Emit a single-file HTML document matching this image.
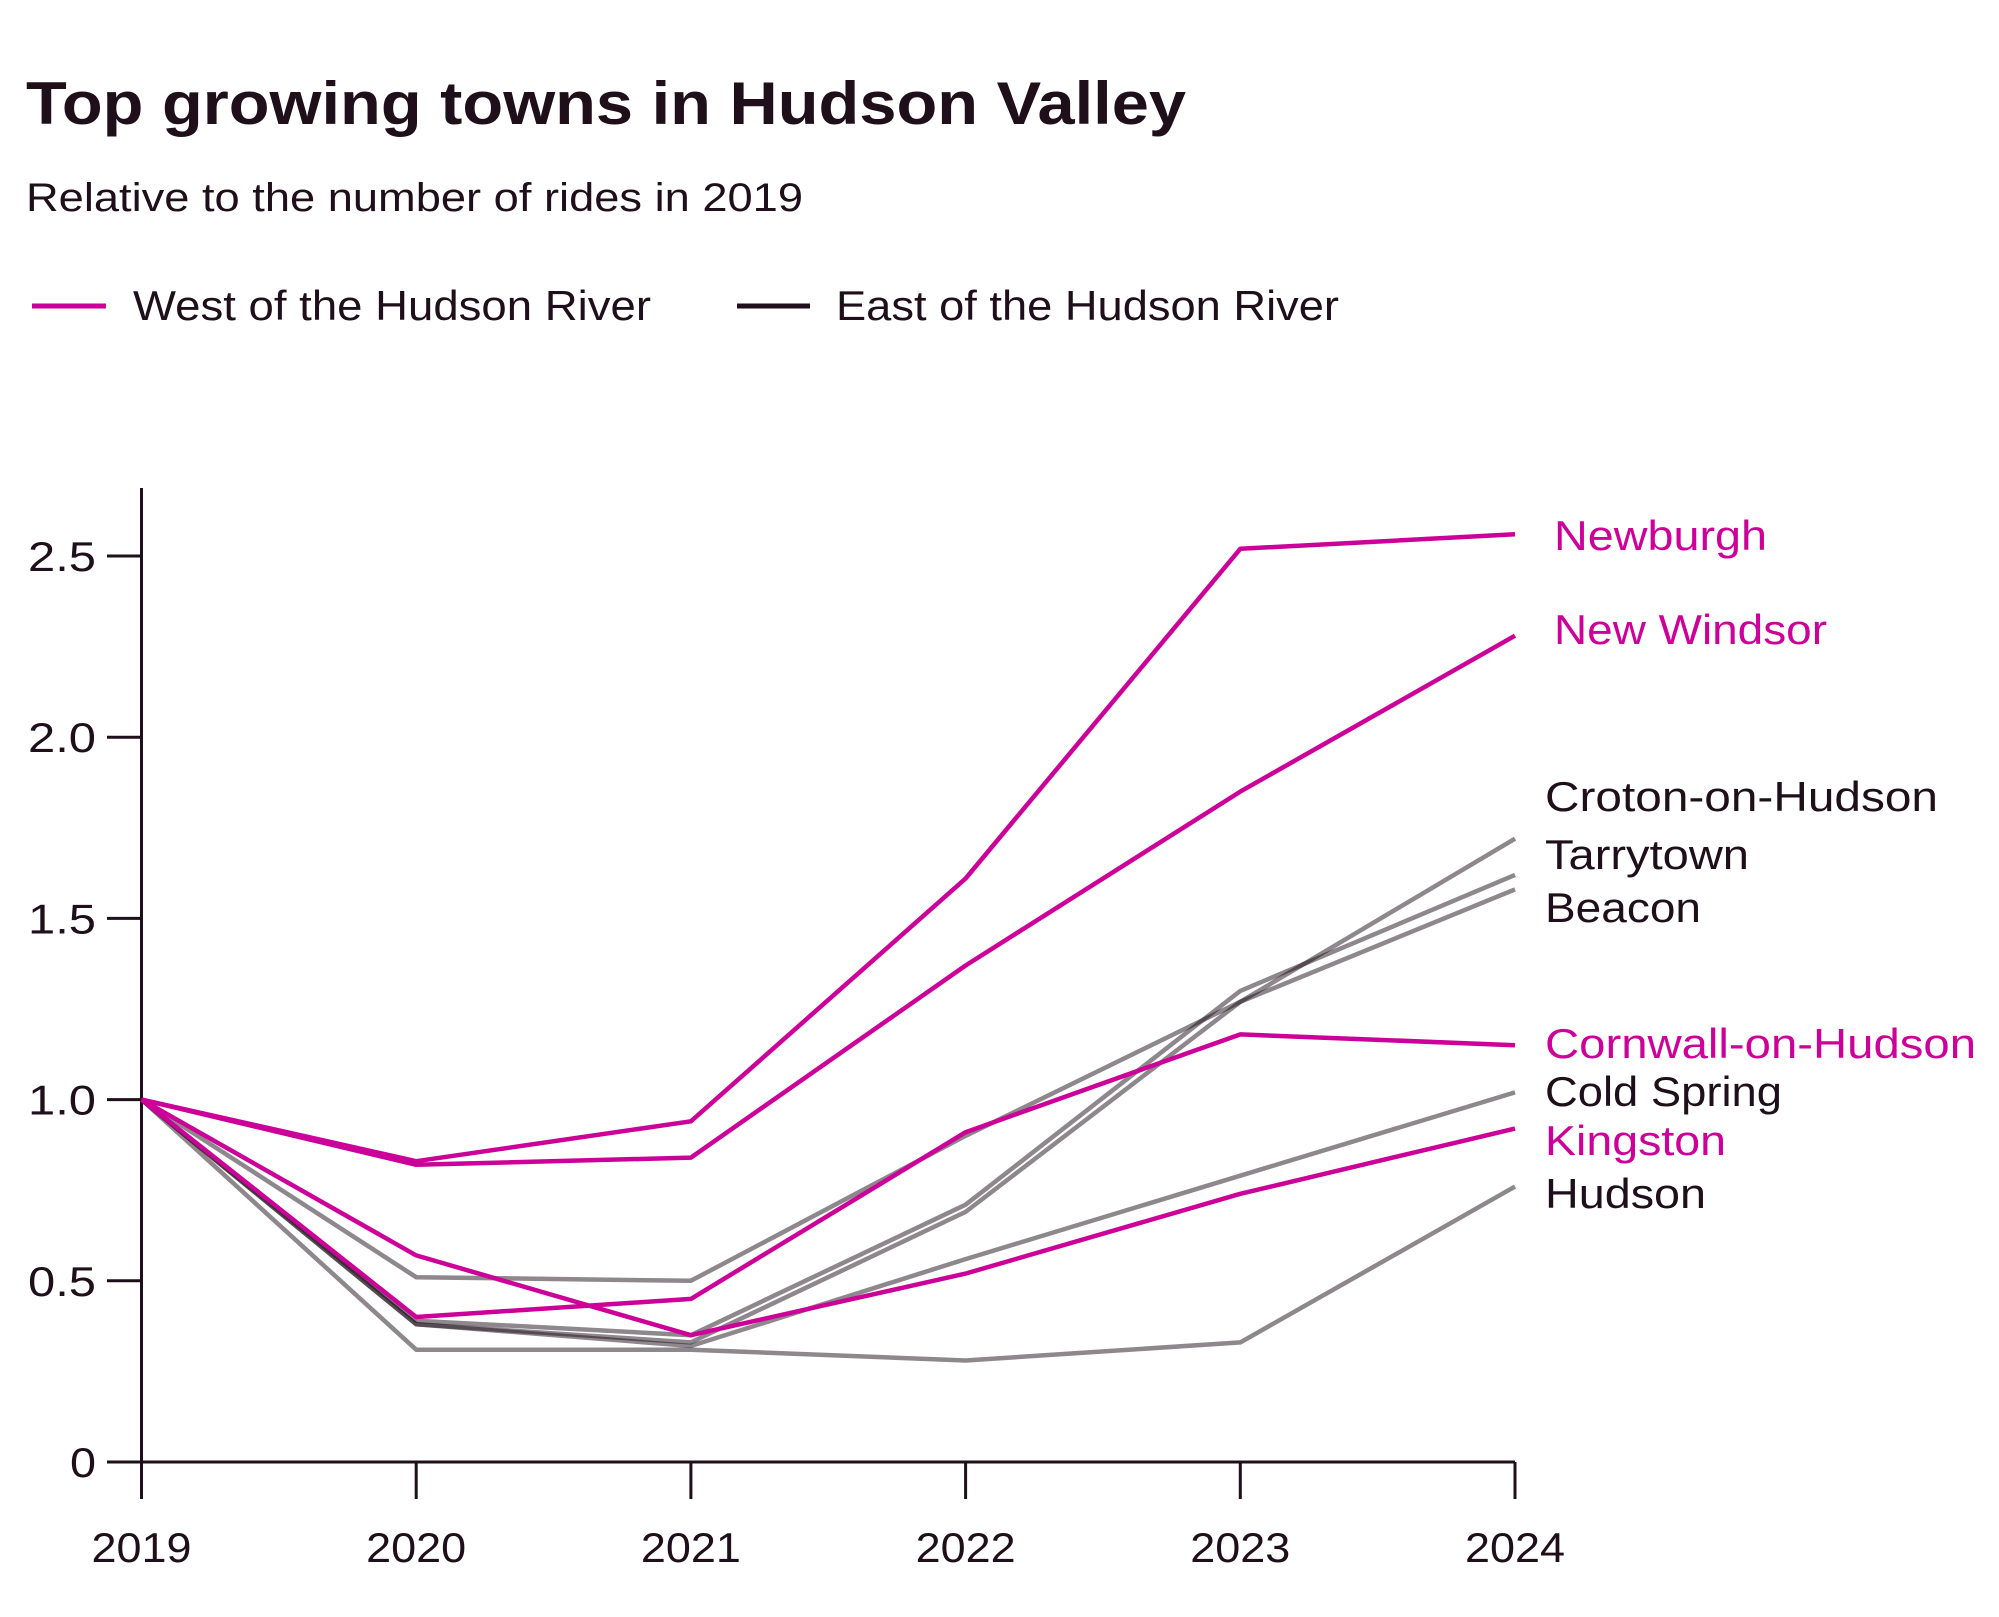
<!DOCTYPE html>
<html><head><meta charset="utf-8"><style>
html,body{margin:0;padding:0;background:#fff}
svg{display:block;font-family:"Liberation Sans",sans-serif}
</style></head><body>
<svg id="chart" width="1999" height="1617" viewBox="0 0 1999 1617" xmlns="http://www.w3.org/2000/svg">
<text x="26" y="124" font-size="60" font-weight="bold" fill="#1e0f1a" textLength="1160" lengthAdjust="spacingAndGlyphs">Top growing towns in Hudson Valley</text>
<text x="26" y="211" font-size="40" fill="#1e0f1a" textLength="777" lengthAdjust="spacingAndGlyphs">Relative to the number of rides in 2019</text>
<g>
<line x1="32" y1="306" x2="106" y2="306" stroke="#cc0099" stroke-width="5"/>
<text x="133" y="320" font-size="42" fill="#1e0f1a" textLength="518" lengthAdjust="spacingAndGlyphs">West of the Hudson River</text>
<line x1="737" y1="306" x2="810" y2="306" stroke="#1e0f1a" stroke-width="5"/>
<text x="836" y="320" font-size="42" fill="#1e0f1a" textLength="503" lengthAdjust="spacingAndGlyphs">East of the Hudson River</text>
</g>
<g id="axes"></g>
<g id="series"></g>
<g id="labels"></g>
</svg>
<script>
const years = [2019, 2020, 2021, 2022, 2023, 2024];
const yTicks = [0, 0.5, 1.0, 1.5, 2.0, 2.5];
const yTickLabels = ["0", "0.5", "1.0", "1.5", "2.0", "2.5"];
const newburgh = [1, 0.83, 0.94, 1.61, 2.52, 2.56];
const newWindsor = [1, 0.82, 0.84, 1.37, 1.85, 2.28];
const cornwall = [1, 0.40, 0.45, 0.91, 1.18, 1.15];
const kingston = [1, 0.57, 0.35, 0.52, 0.74, 0.92];
const croton = [1, 0.38, 0.33, 0.69, 1.27, 1.72];
const tarrytown = [1, 0.39, 0.35, 0.71, 1.30, 1.62];
const beacon = [1, 0.51, 0.50, 0.90, 1.27, 1.58];
const coldSpring = [1, 0.38, 0.32, 0.56, 0.79, 1.02];
const hudson = [1, 0.31, 0.31, 0.28, 0.33, 0.76];
const seriesNames = ["Newburgh","New Windsor","Cornwall-on-Hudson","Kingston","Croton-on-Hudson","Tarrytown","Beacon","Cold Spring","Hudson"];
const seriesData = [newburgh,newWindsor,cornwall,kingston,croton,tarrytown,beacon,coldSpring,hudson];
const seriesWest = [true,true,true,true,false,false,false,false,false];
const labelY = {"Newburgh":535,"New Windsor":629,"Croton-on-Hudson":796,"Tarrytown":854,"Beacon":907,"Cornwall-on-Hudson":1043,"Cold Spring":1091,"Kingston":1140,"Hudson":1193};
const labelW = {"Newburgh":213,"New Windsor":273,"Croton-on-Hudson":393,"Tarrytown":204,"Beacon":156,"Cornwall-on-Hudson":431,"Cold Spring":237,"Kingston":181,"Hudson":161};

const X0=141.5, X1=1515, Y0=1462, YTOP=556, VTOP=2.5;
const x = i => X0 + (X1-X0)*i/(years.length-1);
const y = v => Y0 - (Y0-YTOP)*v/VTOP;
const NS="http://www.w3.org/2000/svg";
function mk(tag, attrs, parent, text){const e=document.createElementNS(NS,tag);for(const k in attrs)e.setAttribute(k,attrs[k]);if(text!==undefined)e.textContent=text;parent.appendChild(e);return e;}
const axes=document.getElementById('axes'), ser=document.getElementById('series'), lab=document.getElementById('labels');
const dark="#1e0f1a";
let e=mk('line',{x1:X0,y1:488,x2:X0,y2:Y0,stroke:dark,'stroke-width':3},axes);


e=mk('line',{x1:X0,y1:Y0,x2:X1,y2:Y0,stroke:dark,'stroke-width':3},axes);


yTicks.forEach((v,i)=>{
  let t=mk('line',{x1:107,y1:y(v),x2:X0,y2:y(v),stroke:dark,'stroke-width':3},axes);
  
  
  const s=yTickLabels[i];
  const w=s.length===1?26:68;
  let l=mk('text',{x:96-w,y:y(v)+15,'font-size':42,fill:dark,textLength:w,lengthAdjust:'spacingAndGlyphs'},axes,s);
  
  
});
years.forEach((yr,i)=>{
  let t=mk('line',{x1:x(i),y1:Y0,x2:x(i),y2:1499,stroke:dark,'stroke-width':3},axes);
  
  
  let l=mk('text',{x:x(i)-50,y:1562,'font-size':42,fill:dark,textLength:100,lengthAdjust:'spacingAndGlyphs'},axes,String(yr));
  
  
});
const order=[4,5,6,7,8,0,1,2,3];
order.forEach(k=>{
  const d=seriesData[k].map((v,i)=>(i?'L':'M')+x(i).toFixed(1)+' '+y(v).toFixed(1)).join(' ');
  const west=seriesWest[k];
  let p=mk('path',{d:d,fill:'none',stroke:west?'#cc0099':'#1e0f1a','stroke-opacity':west?1:0.5,'stroke-width':4.5,'stroke-linejoin':'round'},ser);
  
  
});
seriesNames.forEach((n,k)=>{
  const west=seriesWest[k];
  const lx=(n==="Newburgh"||n==="New Windsor")?1554:1545;
  let t=mk('text',{x:lx,y:labelY[n]+15,'font-size':42,fill:west?'#cc0099':dark,textLength:labelW[n],lengthAdjust:'spacingAndGlyphs'},lab,n);
  
  
});
</script>
</body></html>
